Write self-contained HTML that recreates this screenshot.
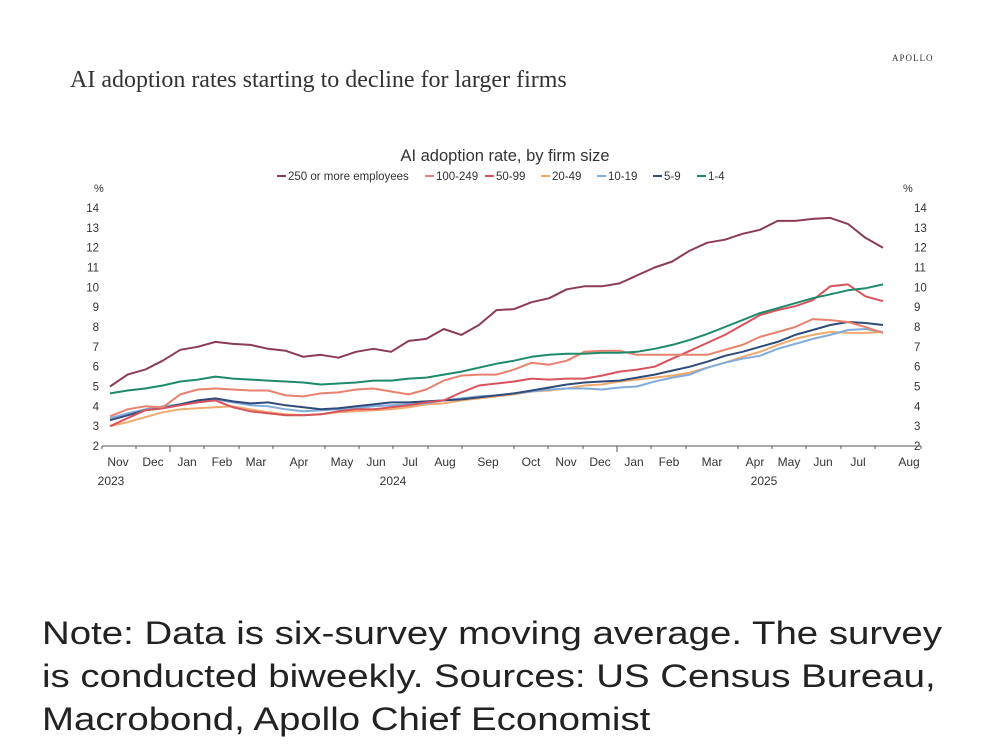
<!DOCTYPE html>
<html><head><meta charset="utf-8">
<style>
html,body{margin:0;padding:0;background:#fff;}
body{width:1000px;height:753px;position:relative;overflow:hidden;font-family:"Liberation Sans",sans-serif;}
.t{position:absolute;white-space:nowrap;}
</style></head>
<body>
<div class="t" style="left:892px;top:53px;font-family:'Liberation Serif',serif;font-size:9px;letter-spacing:1px;color:#333;">APOLLO</div>
<div class="t" style="left:70px;top:67px;font-family:'Liberation Serif',serif;font-size:24px;color:#333;">AI adoption rates starting to decline for larger firms</div>
<svg id="chart" width="1000" height="520" style="position:absolute;left:0;top:0;" xmlns="http://www.w3.org/2000/svg"></svg>
<div class="t" style="left:42px;top:612px;font-size:32px;line-height:43px;color:#222;transform-origin:0 0;transform:scaleX(1.2);">Note: Data is six-survey moving average. The survey<br>is conducted biweekly. Sources: US Census Bureau,<br>Macrobond, Apollo Chief Economist</div>
<script>
const seriesNames = ["250 or more employees","100-249","50-99","20-49","10-19","5-9","1-4"];
const seriesColors = ["#8c3b55","#e8826e","#d8535c","#f2aa6c","#82acd9","#2f4b7b","#1e8a6c"];
const s250 = [5.0,5.6,5.85,6.3,6.85,7.0,7.25,7.15,7.1,6.9,6.8,6.5,6.6,6.45,6.75,6.9,6.75,7.3,7.4,7.9,7.6,8.1,8.85,8.9,9.25,9.45,9.9,10.05,10.05,10.2,10.6,11.0,11.3,11.85,12.25,12.4,12.7,12.9,13.35,13.35,13.45,13.5,13.2,12.5,12.0];
const s100 = [3.5,3.85,4.0,3.95,4.6,4.85,4.9,4.85,4.8,4.8,4.55,4.5,4.65,4.7,4.85,4.9,4.75,4.6,4.85,5.3,5.55,5.6,5.6,5.85,6.2,6.1,6.3,6.75,6.8,6.8,6.6,6.6,6.6,6.6,6.6,6.85,7.1,7.5,7.75,8.0,8.4,8.35,8.25,8.0,7.7];
const s50 = [3.0,3.4,3.8,3.9,4.05,4.2,4.3,3.95,3.75,3.65,3.55,3.55,3.6,3.75,3.85,3.85,3.95,4.05,4.2,4.3,4.7,5.05,5.15,5.25,5.4,5.35,5.4,5.4,5.55,5.75,5.85,6.0,6.4,6.8,7.2,7.6,8.1,8.6,8.85,9.05,9.35,10.05,10.15,9.55,9.3];
const s20 = [3.0,3.2,3.45,3.7,3.85,3.9,3.95,4.0,3.85,3.7,3.6,3.55,3.6,3.7,3.75,3.8,3.85,3.95,4.1,4.15,4.3,4.4,4.5,4.6,4.75,4.8,4.9,5.05,5.1,5.25,5.35,5.45,5.55,5.7,5.95,6.2,6.5,6.75,7.1,7.4,7.6,7.75,7.7,7.7,7.75];
const s10 = [3.4,3.65,3.85,4.0,4.1,4.25,4.35,4.2,4.05,4.0,3.85,3.75,3.8,3.85,3.9,4.0,4.05,4.1,4.15,4.3,4.4,4.5,4.55,4.65,4.75,4.85,4.9,4.9,4.85,4.95,5.0,5.25,5.45,5.6,5.95,6.2,6.4,6.55,6.9,7.15,7.4,7.6,7.85,7.9,7.75];
const s5 = [3.3,3.55,3.8,3.9,4.1,4.3,4.4,4.25,4.15,4.2,4.05,3.95,3.85,3.9,4.0,4.1,4.2,4.2,4.25,4.3,4.35,4.45,4.55,4.65,4.8,4.95,5.1,5.2,5.25,5.3,5.45,5.6,5.8,6.0,6.25,6.55,6.75,7.0,7.25,7.6,7.85,8.1,8.25,8.2,8.1];
const s1 = [4.65,4.8,4.9,5.05,5.25,5.35,5.5,5.4,5.35,5.3,5.25,5.2,5.1,5.15,5.2,5.3,5.3,5.4,5.45,5.6,5.75,5.95,6.15,6.3,6.5,6.6,6.65,6.65,6.7,6.7,6.75,6.9,7.1,7.35,7.65,8.0,8.35,8.7,8.95,9.2,9.45,9.65,9.85,9.95,10.15];
const yTicks = [2,3,4,5,6,7,8,9,10,11,12,13,14];
const monthLabels = ["Nov","Dec","Jan","Feb","Mar","Apr","May","Jun","Jul","Aug","Sep","Oct","Nov","Dec","Jan","Feb","Mar","Apr","May","Jun","Jul","Aug"];
const yearLabels = ["2023","2024","2025"];

const NS="http://www.w3.org/2000/svg";
const svg=document.getElementById('chart');
const x0=110,x1=883,yBase=446,yTop=208;
const xScale=i=>x0+(x1-x0)*i/(s250.length-1);
const yScale=v=>yBase-(v-2)*(yBase-yTop)/12;
function mk(tag,attrs,text){const e=document.createElementNS(NS,tag);for(const k in attrs)e.setAttribute(k,attrs[k]);if(text!==undefined)e.textContent=text;svg.appendChild(e);return e;}

let t=mk('text',{x:505,y:161,'text-anchor':'middle','font-size':16.5,fill:'#333','font-family':'Liberation Sans, sans-serif'},'AI adoption rate, by firm size');



const legW=[148,60,56,56,56,44,40];
let lx=277;
seriesNames.forEach((n,i)=>{
  const g=document.createElementNS(NS,'g');svg.appendChild(g);
  
  
  const l=document.createElementNS(NS,'line');
  l.setAttribute('x1',lx);l.setAttribute('x2',lx+9);l.setAttribute('y1',176);l.setAttribute('y2',176);
  l.setAttribute('stroke',seriesColors[i]);l.setAttribute('stroke-width',2);g.appendChild(l);
  const tx=document.createElementNS(NS,'text');
  tx.setAttribute('x',lx+11);tx.setAttribute('y',180);tx.setAttribute('font-size',11.5);tx.setAttribute('fill','#333');
  tx.textContent=n;g.appendChild(tx);
  lx+=legW[i];
});

t=mk('text',{x:94,y:192,'font-size':11,fill:'#333'},'%');


t=mk('text',{x:903,y:192,'font-size':11,fill:'#333'},'%');



yTicks.forEach(v=>{
  let a=mk('text',{x:99,y:yScale(v)+4,'text-anchor':'end','font-size':11.5,fill:'#333'},String(v));
  
  
  let b=mk('text',{x:914,y:yScale(v)+4,'font-size':11.5,fill:'#333'},String(v));
  
  
});

let ax=mk('line',{x1:102,x2:921,y1:yBase,y2:yBase,stroke:'#555','stroke-width':1});


const labX=[118,153,187,222,256,299,342,376,410,445,488,531,566,600,634,669,712,755,789,823,858,909];
const tickX=[102,136,170,204,239,273,325,359,393,428,462,514,548,583,617,651,686,738,772,806,841,875,921];
tickX.forEach((x,i)=>{
  const big=(i===2||i===14);
  let tk=mk('line',{x1:x,x2:x,y1:yBase,y2:yBase+(big?6:3),stroke:'#555','stroke-width':1});
  
  
});
monthLabels.forEach((m,i)=>{
  let a=mk('text',{x:labX[i],y:466,'text-anchor':'middle','font-size':12,fill:'#333'},m);
  
  
});
[[111,yearLabels[0]],[393,yearLabels[1]],[764,yearLabels[2]]].forEach(p=>{
  let a=mk('text',{x:p[0],y:485,'text-anchor':'middle','font-size':12,fill:'#333'},p[1]);
  
  
});

const allSeries=[s250,s100,s50,s20,s10,s5,s1];
const drawOrder=[3,4,5,2,1,6,0];
drawOrder.forEach(k=>{
  const d=allSeries[k].map((v,i)=>(i?'L':'M')+xScale(i).toFixed(1)+','+yScale(v).toFixed(1)).join('');
  let p=mk('path',{d:d,fill:'none',stroke:seriesColors[k],'stroke-width':2,'stroke-linejoin':'round'});
  
  
});
</script>
</body></html>
